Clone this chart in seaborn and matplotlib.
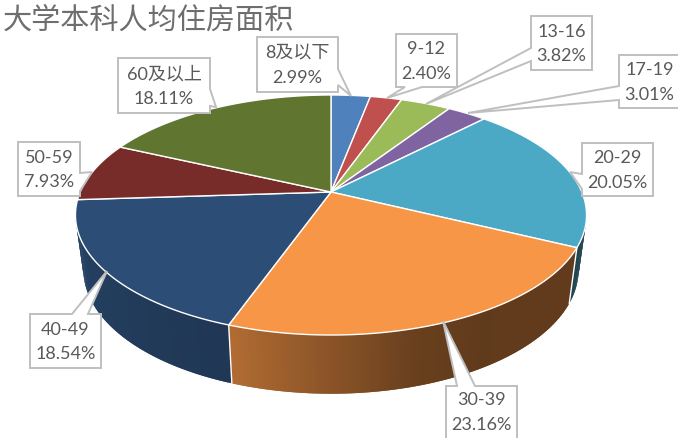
import numpy as np
import matplotlib
matplotlib.use("Agg")
import matplotlib.pyplot as plt
from matplotlib.collections import PolyCollection
from matplotlib.path import Path
import seaborn as sns

TITLE = "大学本科人均住房面积"
categories = ["8及以下", "9-12", "13-16", "17-19", "20-29", "30-39", "40-49", "50-59", "60及以上"]
shares = [2.99, 2.40, 3.82, 3.01, 20.05, 23.16, 18.54, 7.93, 18.11]
pct_labels = ["2.99%", "2.40%", "3.82%", "3.01%", "20.05%", "23.16%", "18.54%", "7.93%", "18.11%"]
colors = ["#4F81BD", "#C0504D", "#9BBB59", "#8064A2", "#4BA9C6",
          "#F79646", "#2C4D75", "#772C2A", "#5F7530"]

# Callout layout in pixels: box (x0, y0, x1, y1), side carrying the pointer, pointer base, pointer tip
callouts = [
    ((257, 38, 338, 93), "right", (70, 86), (351, 97)),
    ((396, 35, 457, 88), "bottom", (422, 405), (387, 99)),
    ((531, 17, 592, 71), "left", (49, 62), (426, 105)),
    ((619, 56, 682, 109), "left", (87, 101), (468, 114)),
    ((582, 144, 653, 197), "left", (175, 190), (570, 173)),
    ((446, 387, 517, 442), "top", (457, 475), (443, 322)),
    ((30, 315, 101, 369), "top", (72, 88), (107, 272)),
    ((18, 143, 80, 197), "right", (174, 192), (92, 173)),
    ((118, 59, 210, 114), "right", (90, 107), (216, 108)),
]

sns.set_theme(style="white")
plt.rcParams["font.family"] = ["Lato", "Noto Sans CJK SC", "DejaVu Sans"]
TEXT = "#595959"
TITLE_COLOR = "#6E6E6E"
BORDER = "#BFBFBF"

# Perspective model of the disc
CX, K = 331.0, 0.1917
TOP = dict(a=250.8, b=115.6, y0=193.0)
BOT = dict(a=243.0, b=119.4, y0=247.0)


def ring(phi_deg, a, b, y0):
    phi = np.radians(phi_deg)
    w = 1 + K * np.cos(phi)
    return CX + a * np.sin(phi) / w, y0 - b * np.cos(phi) / w


def shade(phi_deg):
    return np.interp(phi_deg, [101, 150, 165, 180, 199.5, 215, 259],
                     [.40, .39, .43, .56, .72, .75, .85])


fig = plt.figure(figsize=(6.78, 4.39), dpi=100)
ax = fig.add_axes([0, 0, 1, 1])
palette = sns.color_palette(colors)
wedges, _ = ax.pie(shares, colors=palette, startangle=90, counterclock=False,
                   wedgeprops=dict(edgecolor="white", linewidth=1.0))
ax.set_aspect("auto")
ax.set_xlim(0, 678)
ax.set_ylim(439, 0)

# Side wall: overlapping slivers, so that no seams show between them
VIS0, VIS1 = 101.0, 259.0
quads, quad_cols = [], []
spans = []
for w, col in zip(wedges, palette):
    p0 = (90 - w.theta2) % 360
    p1 = p0 + (w.theta2 - w.theta1)
    spans.append((p0, p1))
    lo, hi = max(p0, VIS0), min(p1, VIS1)
    if hi <= lo:
        continue
    edges = np.arange(lo, hi, 0.75).tolist() + [hi]
    for e0, e1 in zip(edges[:-1], edges[1:]):
        e_over = min(e1 + 0.75, hi)
        xt0, yt0 = ring(e0, **TOP)
        xt1, yt1 = ring(e_over, **TOP)
        xb0, yb0 = ring(e0, **BOT)
        xb1, yb1 = ring(e_over, **BOT)
        quads.append([(xt0, yt0), (xt1, yt1), (xb1, yb1), (xb0, yb0)])
        quad_cols.append(tuple(np.array(col) * shade((e0 + e1) / 2)))
ax.add_collection(PolyCollection(quads, facecolors=quad_cols, edgecolors="none", zorder=1))
for p0, p1 in spans:
    if VIS0 < p0 < VIS1:
        xt, yt = ring(p0, **TOP)
        xb, yb = ring(p0, **BOT)
        ax.plot([xt, xb], [yt, yb], color="white", lw=1.0, zorder=1.5)

# Top face: the pie wedges, reshaped onto the tilted disc
for w, (p0, p1) in zip(wedges, spans):
    phis = np.linspace(p0, p1, max(int(p1 - p0) * 2, 4))
    xs, ys = ring(phis, **TOP)
    verts = [(CX, TOP["y0"])] + list(zip(xs, ys)) + [(CX, TOP["y0"])]
    w._path = Path(verts, closed=True)
    w.set_zorder(2)

# Callouts
for (box, side, base, tip), cat, pct in zip(callouts, categories, pct_labels):
    x0, y0, x1, y1 = box
    if side == "right":
        pts = [(x0, y0), (x1, y0), (x1, base[0]), tip, (x1, base[1]), (x1, y1), (x0, y1)]
    elif side == "left":
        pts = [(x0, y0), (x1, y0), (x1, y1), (x0, y1), (x0, base[1]), tip, (x0, base[0])]
    elif side == "top":
        pts = [(x0, y0), (base[0], y0), tip, (base[1], y0), (x1, y0), (x1, y1), (x0, y1)]
    else:
        pts = [(x0, y0), (x1, y0), (x1, y1), (base[0], y1), tip, (base[1], y1), (x0, y1)]
    ax.fill(*zip(*pts), facecolor="white", edgecolor=BORDER, linewidth=1.4,
            joinstyle="miter", zorder=3, clip_on=True)
    ax.text((x0 + min(x1, 680)) / 2, (y0 + min(y1, 438)) / 2, f"{cat}\n{pct}", ha="center", va="center",
            fontsize=13, color=TEXT, linespacing=1.62, zorder=4)

ax.text(3, 21, TITLE, fontsize=21, color=TITLE_COLOR, ha="left", va="center",
        family=["Noto Sans CJK SC", "DejaVu Sans"])

fig.savefig("out.png", dpi=100)
